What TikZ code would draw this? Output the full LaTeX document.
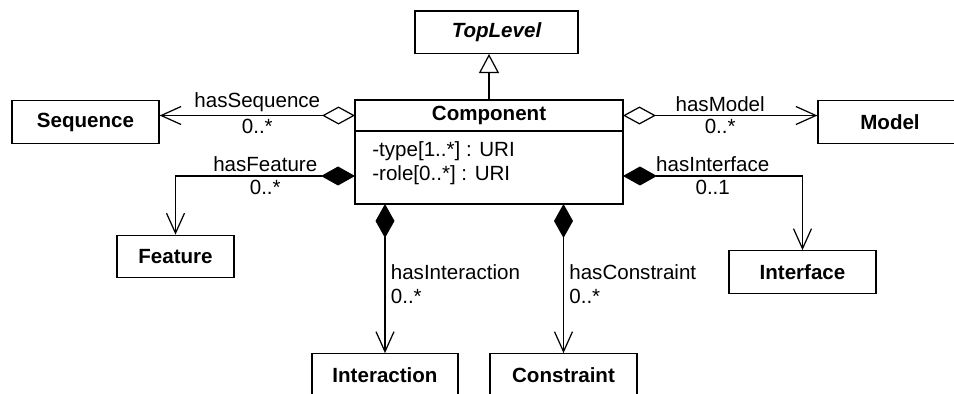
\documentclass[tikz,border=0pt]{standalone}
\usepackage{fontspec}
\setmainfont{Liberation Sans}
\usetikzlibrary{positioning,arrows.meta}

\newcommand\umlfont{\fontsize{11.7}{13.6}\selectfont}

\tikzset{
  classbox/.style={rectangle, draw, line width=0.7pt, minimum height=0.85cm, font=\umlfont\bfseries},
  assoc/.style={line width=0.7pt},
  aggr/.style={assoc, {Diamond[open,length=0.66cm,width=0.36cm]}-{Straight Barb[length=0.4cm,width=0.36cm]}},
  compo/.style={assoc, {Diamond[length=0.68cm,width=0.38cm]}-{Straight Barb[length=0.4cm,width=0.36cm]}},
  gen/.style={assoc, -{Triangle[open,length=0.38cm,width=0.4cm]}},
  role/.style={inner sep=2pt, font=\umlfont}
}

\begin{document}
\begin{tikzpicture}[x=0.02cm,y=-0.02cm,font=\umlfont]
  \useasboundingbox (0,0) rectangle (954,393);
  \clip (0,0) rectangle (954,393);

  % the component class, header and attribute part
  \node[classbox, outer sep=0pt, minimum width=5.36cm, minimum height=0.62cm] (comp) at (489,115.5) {Component};
  \node[classbox, outer sep=0pt, minimum width=5.36cm, minimum height=1.46cm, anchor=north] (attr) at (comp.south) {};
  \node[anchor=north west, align=left, inner sep=0pt] (attrs) at ([xshift=0.34cm,yshift=-0.2cm]attr.north west)
    {-type[1..*] : URI\\-role[0..*] : URI};

  % the other classes
  \node[classbox, minimum width=3.26cm, above=0.92cm of comp, xshift=0.15cm] (top) {\itshape TopLevel};
  \node[classbox, minimum width=2.94cm] (seq) at (85.5,122) {Sequence};
  \node[classbox, minimum width=2.88cm] (model) at (890,122) {Model};
  \node[classbox, minimum width=2.34cm] (feat) at (175.5,256.5) {Feature};
  \node[classbox, minimum width=2.94cm] (iface) at (802.5,272) {Interface};
  \node[classbox, minimum width=2.92cm] (inter) at (385,375) {Interaction};
  \node[classbox, minimum width=2.94cm] (cons) at (563.5,375) {Constraint};

  % relations
  \draw[gen] (comp.north) -- (comp.north |- top.south);
  \draw[aggr] (comp.west) -- (comp.west -| seq.east)
    node[role, midway, above] {hasSequence} node[role, midway, below] {0..*};
  \draw[aggr] (comp.east) -- (comp.east -| model.west)
    node[role, midway, above] {hasModel} node[role, midway, below] {0..*};
  \draw[compo] ([yshift=-0.17cm]attr.west) -| (feat.north)
    node[role, pos=0.25, above] {hasFeature} node[role, pos=0.25, below] {0..*};
  \draw[compo] ([yshift=-0.17cm]attr.east) -| (iface.north)
    node[role, pos=0.25, above] {hasInterface} node[role, pos=0.25, below] {0..1};
  \draw[compo] (inter.north |- attr.south) -- (inter.north)
    node[role, inner sep=3pt, pos=0.54, right, align=left] {hasInteraction\\0..*};
  \draw[compo] (cons.north |- attr.south) -- (cons.north)
    node[role, inner sep=3pt, pos=0.54, right, align=left] {hasConstraint\\0..*};
\end{tikzpicture}
\end{document}
